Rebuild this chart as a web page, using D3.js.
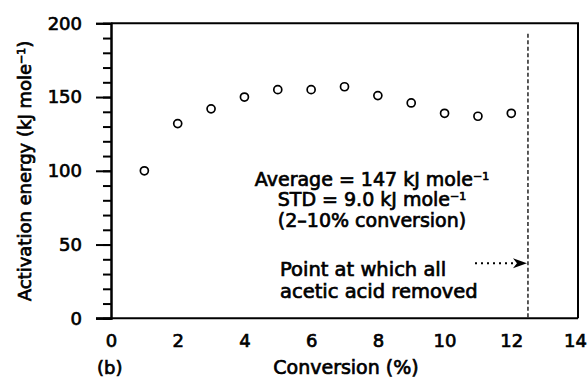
<!DOCTYPE html>
<html>
<head>
<meta charset="utf-8">
<script src="https://cdn.jsdelivr.net/npm/d3@7"></script>
<style>
  body { margin: 0; background: #fff; }
  svg { display: block; }
  text { font-family: "DejaVu Sans", sans-serif; fill: #000; }
  .heavy { stroke: #000; stroke-width: 0.7px; }
</style>
</head>
<body>
<div id="chart"></div>
<script>
// conversion (%) and activation energy (kJ/mole)
var conversion = [1, 2, 3, 4, 5, 6, 7, 8, 9, 10, 11, 12];
var energy = [100, 132, 142, 150, 155, 155, 157, 151, 146, 139, 137, 139];
var xTicks = [0, 2, 4, 6, 8, 10, 12, 14];
var yTicks = [0, 50, 100, 150, 200];
var yMinor = d3.range(0, 201, 10);
var acidRemoved = 12.5; // dashed line position

var width = 587, height = 384;
var x = d3.scaleLinear().domain([0, 14]).range([111, 578]);
var y = d3.scaleLinear().domain([0, 200]).range([318.3, 23.3]);

var svg = d3.select("#chart").append("svg")
    .attr("width", width).attr("height", height);

// frame: right and top
svg.append("path")
    .attr("d", "M" + x(0) + "," + y(200) + "H" + x(14) + "V" + y(0))
    .attr("fill", "none").attr("stroke", "#000").attr("stroke-width", 2);

// y axis, minor then major ticks
var yMinorAxis = svg.append("g").attr("transform", "translate(" + x(0) + ",0)")
    .call(d3.axisLeft(y).tickValues(yMinor).tickSize(8).tickFormat(""));
var yAxis = svg.append("g").attr("transform", "translate(" + x(0) + ",0)")
    .call(d3.axisLeft(y).tickValues(yTicks).tickSize(15).tickPadding(14));
[yMinorAxis, yAxis].forEach(function(g) {
    g.select(".domain").attr("stroke-width", 2);
    g.selectAll(".tick line").attr("stroke-width", 2);
});
yAxis.selectAll(".tick text")
    .attr("class", "heavy")
    .style("font-size", "18px").style("font-family", "DejaVu Sans");

// x axis: line with labels, no tick marks
var xAxis = svg.append("g").attr("transform", "translate(0," + y(0) + ")")
    .call(d3.axisBottom(x).tickValues(xTicks).tickSize(0).tickPadding(16));
xAxis.select(".domain").remove();
xAxis.selectAll(".tick text")
    .attr("class", "heavy")
    .attr("dx", function(d) { return d === 14 ? -3 : 0; })
    .style("font-size", "18px").style("font-family", "DejaVu Sans");
svg.append("line")
    .attr("x1", x(0) - 15).attr("x2", x(14))
    .attr("y1", y(0)).attr("y2", y(0))
    .attr("stroke", "#000").attr("stroke-width", 2);

// dashed marker line
svg.append("line")
    .attr("x1", x(acidRemoved)).attr("x2", x(acidRemoved))
    .attr("y1", y(193)).attr("y2", y(0))
    .attr("stroke", "#000").attr("stroke-width", 1.3)
    .attr("stroke-dasharray", "4,2.5");

// data points
svg.append("g").selectAll("circle")
    .data(conversion)
    .join("circle")
    .attr("cx", function(d) { return x(d); })
    .attr("cy", function(d, i) { return y(energy[i]); })
    .attr("r", 4)
    .attr("fill", "#fff").attr("stroke", "#000").attr("stroke-width", 1.7);

// annotation text
function textLine(str, sup, px, py, anchor, size) {
    var t = svg.append("text")
        .attr("class", "heavy")
        .attr("x", px).attr("y", py)
        .attr("text-anchor", anchor)
        .style("font-size", size + "px");
    t.append("tspan").text(str);
    if (sup) {
        t.append("tspan").attr("dy", -6).style("font-size", (size * 0.58) + "px").text(sup);
    }
    return t;
}
textLine("Average = 147 kJ mole", "\u22121", 372, 186, "middle", 19);
textLine("STD = 9.0 kJ mole", "\u22121", 372, 206, "middle", 19);
textLine("(2\u201310% conversion)", null, 372, 226.5, "middle", 19);
textLine("Point at which all", null, 280, 275.5, "start", 19.5);
textLine("acetic acid removed", null, 280, 297.5, "start", 19.5);

// dotted arrow
var arrowY = 263.3;
svg.append("line")
    .attr("x1", 475).attr("x2", 516)
    .attr("y1", arrowY).attr("y2", arrowY)
    .attr("stroke", "#000").attr("stroke-width", 2)
    .attr("stroke-dasharray", "2,4");
svg.append("path")
    .attr("d", "M" + (x(acidRemoved) - 1) + "," + arrowY + "l-14,-5 l4,5 l-4,5z")
    .attr("fill", "#000");

// axis titles
svg.append("text")
    .attr("class", "heavy")
    .attr("transform", "translate(31,171) rotate(-90)")
    .attr("text-anchor", "middle")
    .style("font-size", "18px")
    .call(function(t) {
        t.append("tspan").text("Activation energy (kJ mole");
        t.append("tspan").attr("dy", -6).style("font-size", "11px").text("\u22121");
        t.append("tspan").attr("dy", 6).text(")");
    });
svg.append("text")
    .attr("class", "heavy")
    .attr("x", 346).attr("y", 374)
    .attr("text-anchor", "middle")
    .style("font-size", "19px")
    .text("Conversion (%)");
svg.append("text")
    .attr("class", "heavy")
    .attr("x", 97).attr("y", 374)
    .style("font-size", "18px")
    .text("(b)");
</script>
</body>
</html>
